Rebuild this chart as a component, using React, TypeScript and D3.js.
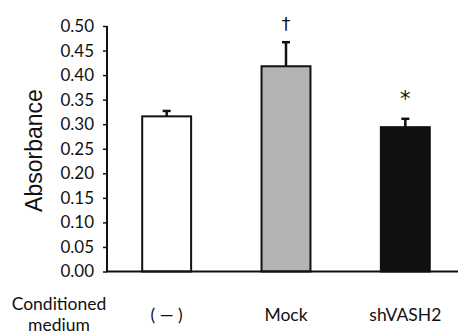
import { useEffect, useRef } from 'react';
import * as d3 from 'd3';

const groups = ['( \u2014 )', 'Mock', 'shVASH2'];
const absorbance = [0.316, 0.418, 0.294];
const errors = [0.011, 0.049, 0.017];
const marks = ['', '\u2020', '*'];
const barFills = ['#ffffff', '#b4b4b4', '#111111'];
const yTicks = [0, 0.05, 0.1, 0.15, 0.2, 0.25, 0.3, 0.35, 0.4, 0.45, 0.5];

export default function App() {
    const ref = useRef<SVGSVGElement>(null);

    useEffect(() => {
        const svg = d3.select(ref.current);
        svg.selectAll('*').remove();

        const width = 459;
        const height = 334;

        const x = d3.scaleBand().domain(groups).range([107, 465]).paddingInner(0.59).paddingOuter(0.295);
        const y = d3.scaleLinear().domain([0, 0.5]).range([271.5, 26]);

        svg.attr('width', width).attr('height', height);

        // bars
        svg.append('g')
            .selectAll('rect')
            .data(absorbance)
            .join('rect')
            .attr('x', (d, i) => x(groups[i])!)
            .attr('y', d => y(d))
            .attr('width', x.bandwidth())
            .attr('height', d => y(0) - y(d))
            .attr('fill', (d, i) => barFills[i])
            .attr('stroke', '#111')
            .attr('stroke-width', 2);

        // error bars
        const eg = svg.append('g').attr('stroke', '#111').attr('stroke-width', 2.5);
        absorbance.forEach((v, i) => {
            const cx = x(groups[i])! + x.bandwidth() / 2;
            eg.append('line').attr('x1', cx).attr('x2', cx).attr('y1', y(v)).attr('y2', y(v + errors[i]));
            eg.append('line').attr('x1', cx - 4).attr('x2', cx + 4).attr('y1', y(v + errors[i])).attr('y2', y(v + errors[i]));
        });

        // significance marks
        svg.append('g')
            .selectAll('text')
            .data(marks)
            .join('text')
            .attr('x', (d, i) => x(groups[i])! + x.bandwidth() / 2)
            .attr('y', (d, i) => y(absorbance[i] + errors[i]) - (i === 1 ? 12 : 13))
            .attr('text-anchor', 'middle')
            .attr('font-family', 'DejaVu Sans, sans-serif')
            .attr('font-size', (d, i) => (i === 1 ? 18 : 21))
            .attr('fill', '#111')
            .text(d => d);

        // y axis
        const yAxis = svg.append('g')
            .attr('transform', 'translate(107,0)')
            .call(d3.axisLeft(y).tickValues(yTicks).tickFormat(d3.format('.2f')).tickSize(4).tickPadding(9));
        yAxis.select('.domain').attr('stroke', '#111').attr('stroke-width', 2).attr('d', `M0,${y(0.5)}V${y(0)}`);
        yAxis.selectAll('.tick line').attr('stroke', '#111').attr('stroke-width', 1.5);
        yAxis.selectAll('.tick text')
            .attr('font-family', 'Lato, sans-serif')
            .attr('font-size', 17)
            .attr('fill', '#111');

        // x axis line
        svg.append('line')
            .attr('x1', 106).attr('x2', 458)
            .attr('y1', y(0)).attr('y2', y(0))
            .attr('stroke', '#111').attr('stroke-width', 2);

        // category labels
        svg.append('g')
            .selectAll('text')
            .data(groups)
            .join('text')
            .attr('x', d => x(d)! + x.bandwidth() / 2)
            .attr('y', 321)
            .attr('text-anchor', 'middle')
            .attr('font-family', 'Lato, sans-serif')
            .attr('font-size', 17.5)
            .attr('fill', '#111')
            .text(d => d);

        const cm = svg.append('text')
            .attr('text-anchor', 'middle')
            .attr('font-family', 'Lato, sans-serif')
            .attr('font-size', 17.5)
            .attr('fill', '#111');
        cm.append('tspan').attr('x', 59).attr('y', 310).text('Conditioned');
        cm.append('tspan').attr('x', 59).attr('y', 331).text('medium');

        // y label
        svg.append('text')
            .attr('transform', `translate(42,${(88 + 213) / 2}) rotate(-90)`)
            .attr('text-anchor', 'middle')
            .attr('font-family', 'Liberation Sans, Arial, sans-serif')
            .attr('font-size', 23)
            .attr('fill', '#111')
            .text('Absorbance');
    }, []);

    return (
        <div>
            <svg ref={ref} style={{ position: 'absolute', left: 0, top: 0 }}></svg>
        </div>
    );
}
